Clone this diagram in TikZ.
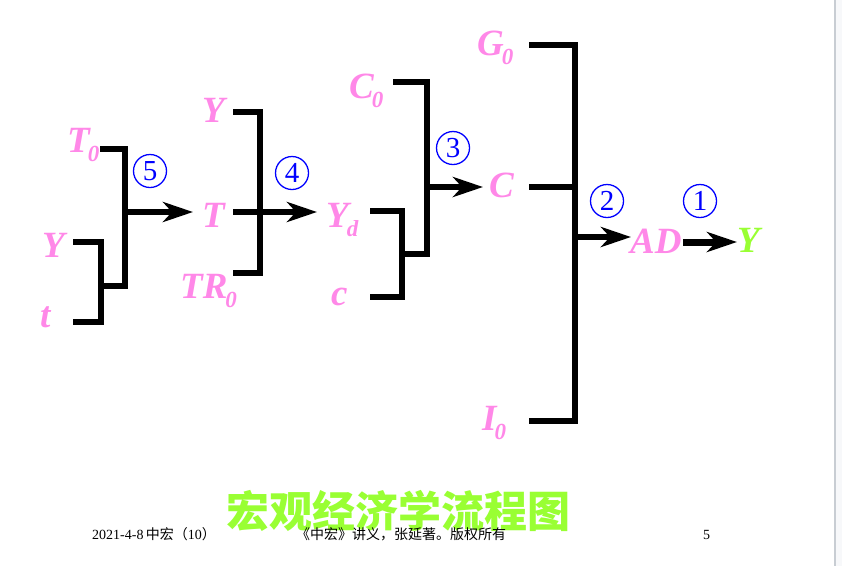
\documentclass[tikz,border=0pt]{standalone}
\usepackage{fontspec}
\setmainfont{Liberation Serif}
\newfontfamily\cjk{Noto Sans CJK SC}
\usetikzlibrary{arrows.meta}
\definecolor{lblpink}{RGB}{255,136,232}
\definecolor{lgreen}{RGB}{153,255,51}
\definecolor{cblue}{RGB}{0,0,255}
\definecolor{edgegrey}{RGB}{200,205,211}
\definecolor{stripgrey}{RGB}{247,248,250}
\newcommand{\sbz}[1]{\kern-2pt\raisebox{-9pt}{\fontsize{23}{23}\selectfont #1}}
\tikzset{
  lbl/.style={anchor=base west, inner sep=0pt, text=lblpink, font=\fontsize{37}{37}\selectfont\bfseries\itshape},
  brk/.style={line width=5.5pt, line join=miter, black},
  arr/.style={line width=5.5pt, black, -{Stealth[length=30pt,width=20pt,inset=9pt]}},
  num/.style={circle, draw=cblue, line width=1.3pt, minimum size=33pt, inner sep=0pt, text=cblue, font=\fontsize{29}{29}\selectfont},
  foot/.style={anchor=base west, inner sep=0pt, font=\fontsize{14}{14}\selectfont}
}
\begin{document}
\begin{tikzpicture}[x=1pt,y=-1pt]
\useasboundingbox (0,0) rectangle (842,566);
\fill[white] (0,0) rectangle (842,566);
\fill[stripgrey] (835,0) rectangle (842,566);
\draw[edgegrey, line width=1.2pt] (835,0) -- (835,566);

% labels
\node[lbl] (T0) at (67,152) {T\sbz{0}};
\node[lbl] (Ya) at (42,257) {Y};
\node[lbl] (t) at (40,327) {t};
\node[lbl] (T) at (202,227) {T};
\node[lbl] (Yb) at (202,122) {Y};
\node[lbl] (TR0) at (180,298) {TR\sbz{0}};
\node[lbl] (Yd) at (326,227) {Y\sbz{d}};
\node[lbl] (C0) at (349,98) {C\sbz{0}};
\node[lbl] (c) at (331,305) {c};
\node[lbl] (C) at (489,197) {C};
\node[lbl] (G0) at (477,55) {G\sbz{0}};
\node[lbl] (I0) at (482,430) {I\sbz{0}};
\node[lbl] (AD) at (630,253) {AD};
\node[lbl, text=lgreen] (Yout) at (737,252) {Y};

% circled numbers
\node[num] (n5) at (150,171) {5};
\node[num] (n4) at (292,173) {4};
\node[num] (n3) at (453,148) {3};
\node[num] (n2) at (607,201) {2};
\node[num] (n1) at (700,201) {1};

% coordinates of bracket points
\coordinate (a1) at (100,149); \coordinate (a2) at (125,149); \coordinate (a3) at (125,286); \coordinate (a4) at (101,286);
\coordinate (b1) at (73,242); \coordinate (b2) at (101,242); \coordinate (b3) at (101,322); \coordinate (b4) at (73,322);
\coordinate (a5) at (125,212); \coordinate (a6) at (193,212);
\coordinate (c1) at (233,112); \coordinate (c2) at (260,112); \coordinate (c3) at (260,273); \coordinate (c4) at (233,273);
\coordinate (c5) at (233,212); \coordinate (c6) at (317,212);
\coordinate (d1) at (393,82); \coordinate (d2) at (427,82); \coordinate (d3) at (427,254); \coordinate (d4) at (402,254);
\coordinate (e1) at (370,211); \coordinate (e2) at (402,211); \coordinate (e3) at (402,297); \coordinate (e4) at (370,297);
\coordinate (d5) at (427,187); \coordinate (d6) at (483,187);
\coordinate (f1) at (529,45); \coordinate (f2) at (575,45); \coordinate (f3) at (575,421); \coordinate (f4) at (529,421);
\coordinate (g1) at (529,187); \coordinate (g2) at (575,187);
\coordinate (f5) at (575,237); \coordinate (f6) at (631,237);
\coordinate (h1) at (683,242); \coordinate (h2) at (737,242);

% group 5
\draw[brk] (a1) -- (a2) -- (a3) -- (a4);
\draw[brk] (b1) -- (b2) -- (b3) -- (b4);
\draw[arr] (a5) -- (a6);
% group 4
\draw[brk] (c1) -- (c2) -- (c3) -- (c4);
\draw[arr] (c5) -- (c6);
% group 3
\draw[brk] (d1) -- (d2) -- (d3) -- (d4);
\draw[brk] (e1) -- (e2) -- (e3) -- (e4);
\draw[arr] (d5) -- (d6);
% group 2
\draw[brk] (f1) -- (f2) -- (f3) -- (f4);
\draw[brk] (g1) -- (g2);
\draw[arr] (f5) -- (f6);
% group 1
\draw[arr, line width=7pt] (h1) -- (h2);

% title
\node[inner sep=0pt, text=lgreen, font=\cjk\bfseries\fontsize{43}{43}\selectfont] (title) at (398,511) {宏观经济学流程图};

% footer
\node[foot] (fl) at (92,539) {2021-4-8\,{\cjk 中宏（}10{\cjk ）}};
\node[foot] (fm) at (296,539) {\cjk 《中宏》讲义，张延著。版权所有};
\node[foot] (fr) at (703,539) {5};
\end{tikzpicture}
\end{document}
